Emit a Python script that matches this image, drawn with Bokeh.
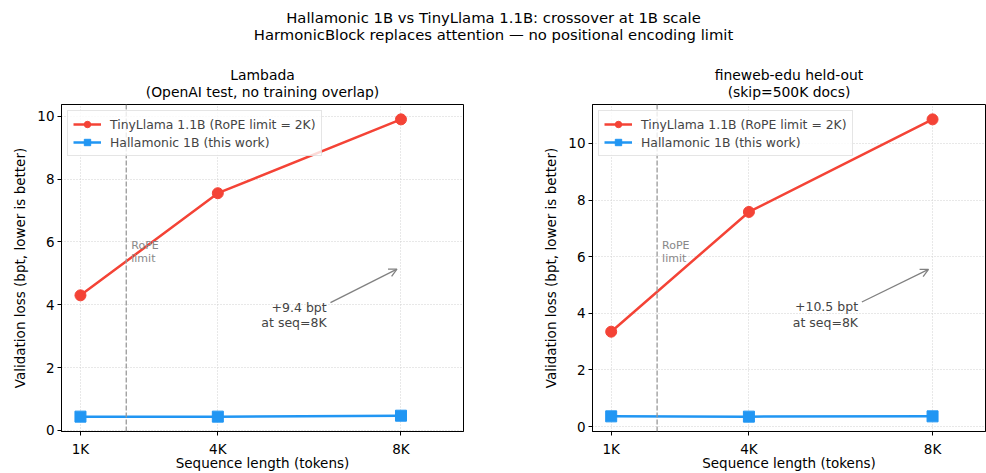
from bokeh.plotting import figure
from bokeh.models import (Range1d, FixedTicker, Legend, LegendItem, Span, Label,
                          Arrow, OpenHead, Title)
from bokeh.layouts import column, row
from bokeh.embed import file_html
from bokeh.resources import INLINE
from bokeh.core.properties import value

# ---------------- data ----------------
seq_len = [1024, 4096, 8192]
tick_labels = ["1K", "4K", "8K"]
y_ticks = [0, 2, 4, 6, 8, 10]
rope_limit = 2048

lambada_tiny = [4.30, 7.55, 9.90]
lambada_hall = [0.44, 0.44, 0.47]
fineweb_tiny = [3.35, 7.58, 10.85]
fineweb_hall = [0.36, 0.35, 0.36]

series_names = ["TinyLlama 1.1B (RoPE limit = 2K)", "Hallamonic 1B (this work)"]
lambada_title = ["Lambada", "(OpenAI test, no training overlap)"]
fineweb_title = ["fineweb-edu held-out", "(skip=500K docs)"]
suptitle = ["Hallamonic 1B vs TinyLlama 1.1B: crossover at 1B scale",
            "HarmonicBlock replaces attention \u2014 no positional encoding limit"]

RED = "#F44336"
BLUE = "#2196F3"
FONT = "DejaVu Sans"


def make_panel(tiny, hall, title_lines, width, x_range, mb_left, mb_right, title_offset):
    lo = min(hall + tiny)
    hi = max(hall + tiny)
    pad = 0.05 * (hi - lo)
    p = figure(width=width, height=413, output_backend="svg", toolbar_location=None,
               x_range=Range1d(*x_range), y_range=Range1d(lo - pad, hi + pad),
               min_border_left=mb_left, min_border_right=mb_right,
               min_border_top=44, min_border_bottom=30)
    # outer title line (further from the frame)
    p.title = Title(text=title_lines[0], align="center", text_font=FONT,
                    text_font_size="13.9px", text_font_style="normal", text_color="black",
                    standoff=-10, offset=title_offset)
    # inner title line (closest to the frame)
    p.add_layout(Title(text=title_lines[1], align="center", text_font=FONT,
                       text_font_size="13.9px", text_font_style="normal",
                       text_color="black", standoff=9, offset=title_offset), "above")
    p.background_fill_color = "white"
    p.border_fill_color = "white"
    p.outline_line_color = "black"
    p.outline_line_width = 1

    p.xaxis.ticker = FixedTicker(ticks=seq_len)
    p.xaxis.major_label_overrides = {s: t for s, t in zip(seq_len, tick_labels)}
    p.yaxis.ticker = FixedTicker(ticks=y_ticks)
    p.xaxis.axis_label = "Sequence length (tokens)"
    p.yaxis.axis_label = "Validation loss (bpt, lower is better)"
    for ax in (p.xaxis, p.yaxis):
        ax.axis_label_text_font = FONT
        ax.axis_label_text_font_size = "13.5px"
        ax.axis_label_text_font_style = "normal"
        ax.axis_label_text_color = "black"
        ax.major_label_text_font = FONT
        ax.major_label_text_font_size = "13.5px"
        ax.major_label_text_color = "black"
        ax.axis_line_color = "black"
        ax.major_tick_line_color = "black"
        ax.major_tick_in = 0
        ax.major_tick_out = 4
        ax.minor_tick_line_color = None
        ax.major_label_standoff = 3
    p.xaxis.major_label_standoff = 5
    p.xaxis.axis_label_standoff = -5
    p.yaxis.axis_label_standoff = 6

    for g in (p.xgrid, p.ygrid):
        g.grid_line_color = "#d0d0d0"
        g.grid_line_dash = "1 2"
        g.grid_line_width = 1
    p.xgrid.ticker = FixedTicker(ticks=seq_len)
    p.ygrid.ticker = FixedTicker(ticks=y_ticks)

    # RoPE limit line and its label
    p.add_layout(Span(location=rope_limit, dimension="height", line_color="#999999",
                      line_dash="5 2", line_width=1.3))
    y0, y1 = p.y_range.start, p.y_range.end
    ry = y0 + 0.568 * (y1 - y0)
    for txt, off in (("RoPE", 0), ("limit", -12.4)):
        p.add_layout(Label(x=rope_limit, y=ry, x_offset=5, y_offset=off, text=txt,
                           text_font=FONT, text_font_size="11px", text_color="#888888",
                           text_baseline="middle", text_align="left"))

    # series
    r1 = p.line(seq_len, tiny, line_color=RED, line_width=2.5)
    s1 = p.scatter(seq_len, tiny, marker="circle", size=11, fill_color=RED, line_color=RED)
    r2 = p.line(seq_len, hall, line_color=BLUE, line_width=2.5)
    s2 = p.scatter(seq_len, hall, marker="square", size=11, fill_color=BLUE, line_color=BLUE)

    legend = Legend(items=[LegendItem(label=series_names[0], renderers=[r1, s1]),
                           LegendItem(label=series_names[1], renderers=[r2, s2])],
                    location="top_left", label_text_font=FONT, label_text_font_size="12.4px",
                    border_line_color="#cccccc", background_fill_alpha=0.8,
                    glyph_width=28, glyph_height=16, spacing=2, padding=5, margin=6,
                    label_standoff=9, label_height=16)
    p.add_layout(legend)

    # gap annotation
    gap = tiny[-1] - hall[-1]
    mid = (tiny[-1] + hall[-1]) / 2
    ty = mid * 0.755
    p.add_layout(Arrow(end=OpenHead(size=8, line_color="#808080", line_width=1.3),
                       x_start=6615, y_start=mid * 0.785, x_end=seq_len[-1] - 90,
                       y_end=mid * 0.99, line_color="#808080", line_width=1.3))
    for txt, off in (("+%.1f bpt" % gap, 0), ("at seq=8K", -15.3)):
        p.add_layout(Label(x=6530, y=ty, y_offset=off, text=txt,
                           text_font=FONT, text_font_size="12.5px", text_color="#444444",
                           text_align="right", text_baseline="middle"))
    return p


header = figure(width=986, height=60, output_backend="svg", toolbar_location=None,
                x_range=Range1d(0, 986), y_range=Range1d(60, 0),
                min_border=0, outline_line_color=None)
header.axis.visible = False
header.grid.visible = False
header.text(x=[493, 493], y=[16.5, 34], text=suptitle, text_font=value(FONT),
            text_font_size="14.8px", text_align="center", text_baseline="middle",
            text_color="black")

left = make_panel(lambada_tiny, lambada_hall, lambada_title, 530, (600, 9590), 61, 67, 0)
right = make_panel(fineweb_tiny, fineweb_hall, fineweb_title, 456, (607, 9373), 62, 1, 4.5)

layout = column(header, row(left, right))
open("out.html", "w").write(file_html(layout, INLINE))
